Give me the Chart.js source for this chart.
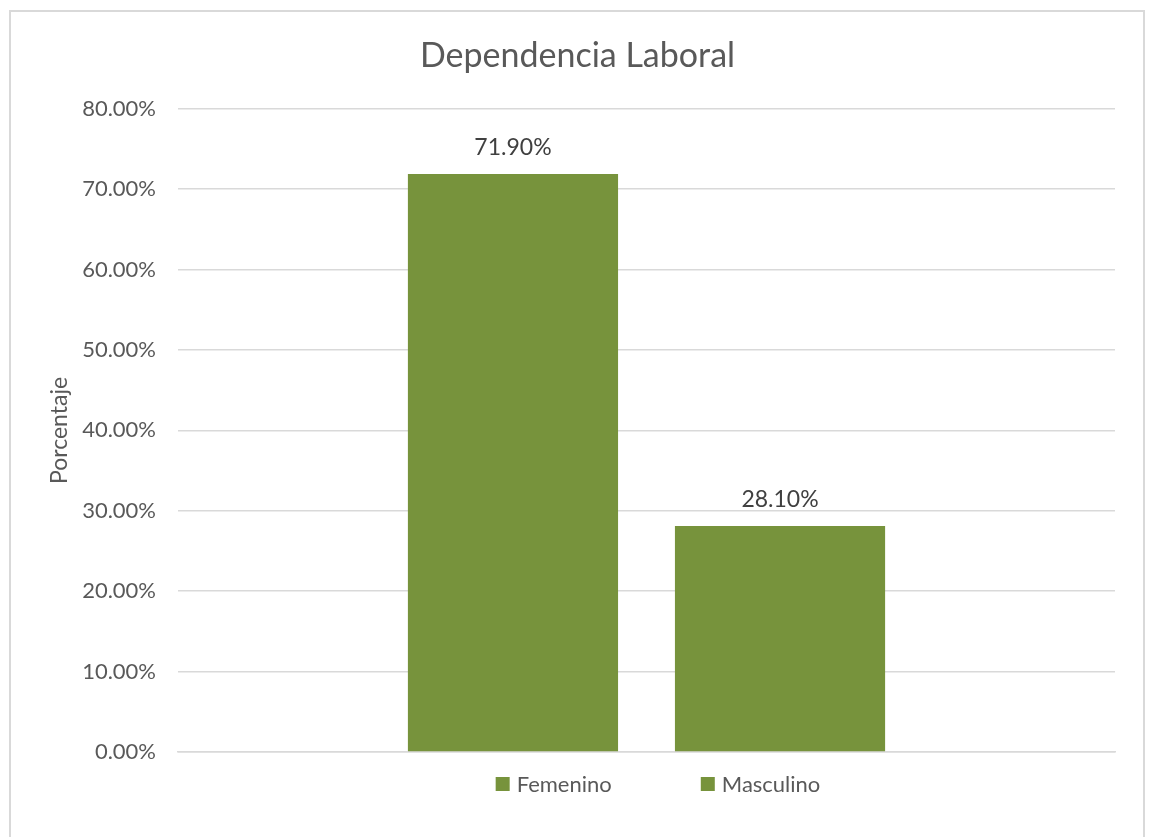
<!DOCTYPE html>
<html>
<head>
<meta charset="utf-8">
<script src="https://cdn.jsdelivr.net/npm/chart.js@4.4.1/dist/chart.umd.min.js"></script>
<style>
  body { margin: 0; background: #fff; }
  #marco { position: absolute; left: 9px; top: 10px; width: 1132px; height: 900px; border: 2px solid #d9d9d9; }
  #grafico { position: absolute; left: 0; top: 0; }
</style>
</head>
<body>
<div id="marco"></div>
<canvas id="grafico" width="1151" height="837"></canvas>
<script>
// datos
var categorias = [''];
var series = ['Femenino', 'Masculino'];
var femenino = [0.719];
var masculino = [0.281];
var valoresY = [0, 0.1, 0.2, 0.3, 0.4, 0.5, 0.6, 0.7, 0.8];

var verde = 'rgb(119,147,60)';
var gris = '#595959';
var fuente = 'Lato';

function pct(v) {
    return (v * 100).toFixed(2) + '%';
}

// etiquetas encima de las barras
var etiquetas = {
    id: 'etiquetas',
    afterDatasetsDraw: function (chart) {
        var ctx = chart.ctx;
        ctx.save();
        ctx.font = '23px ' + fuente;
        ctx.fillStyle = '#404040';
        ctx.textAlign = 'center';
        ctx.textBaseline = 'alphabetic';
        chart.data.datasets.forEach(function (ds, i) {
            chart.getDatasetMeta(i).data.forEach(function (bar, j) {
                ctx.fillText(pct(ds.data[j]), bar.x, bar.y - 19);
            });
        });
        ctx.restore();
    }
};

// leyenda abajo con separacion tipo Excel
var leyenda = {
    id: 'leyenda',
    afterDraw: function (chart) {
        var ctx = chart.ctx;
        ctx.save();
        ctx.font = '22px ' + fuente;
        ctx.textBaseline = 'middle';
        ctx.textAlign = 'left';
        var caja = 14, hueco = 7, sep = 89, y = 784;
        var total = 0;
        chart.data.datasets.forEach(function (ds, i) {
            total += caja + hueco + ctx.measureText(ds.label).width;
            if (i > 0) total += sep;
        });
        var x = 658 - total / 2;
        chart.data.datasets.forEach(function (ds) {
            ctx.fillStyle = ds.backgroundColor;
            ctx.fillRect(x, y - caja / 2, caja, caja);
            ctx.fillStyle = gris;
            ctx.fillText(ds.label, x + caja + hueco, y + 1);
            x += caja + hueco + ctx.measureText(ds.label).width + sep;
        });
        ctx.restore();
    }
};

var ctx = document.getElementById('grafico');
var myChart = new Chart(ctx, {
    type: 'bar',
    data: {
        labels: categorias,
        datasets: [
            {
                label: series[0],
                data: femenino,
                backgroundColor: verde,
                categoryPercentage: 0.57,
                barPercentage: 0.787
            },
            {
                label: series[1],
                data: masculino,
                backgroundColor: verde,
                categoryPercentage: 0.57,
                barPercentage: 0.787
            }
        ]
    },
    options: {
        responsive: false,
        animation: false,
        devicePixelRatio: 1,
        layout: {
            padding: { left: 40, right: 36, top: 36, bottom: 85 }
        },
        plugins: {
            title: {
                display: true,
                text: 'Dependencia Laboral',
                color: gris,
                font: { family: fuente, size: 34, weight: 'normal' },
                padding: { top: 0, bottom: 32 }
            },
            legend: { display: false },
            tooltip: { enabled: false }
        },
        scales: {
            x: {
                grid: { display: false },
                border: { display: true, color: '#d9d9d9', width: 1.5 },
                ticks: { display: false },
                afterFit: function (scale) { scale.height = 0; }
            },
            y: {
                min: 0,
                max: 0.8,
                afterBuildTicks: function (scale) {
                    scale.ticks = valoresY.map(function (v) { return { value: v }; });
                },
                grid: { color: '#d9d9d9', lineWidth: 1.5, drawTicks: false },
                border: { display: false },
                ticks: {
                    padding: 22,
                    color: gris,
                    font: { family: fuente, size: 22 },
                    callback: function (v) { return pct(v); }
                },
                title: {
                    display: true,
                    text: 'Porcentaje',
                    color: gris,
                    font: { family: fuente, size: 23 },
                    padding: { top: 6, bottom: 0 }
                },
                afterFit: function (scale) { scale.width = 138; }
            }
        }
    },
    plugins: [etiquetas, leyenda]
});
</script>
</body>
</html>
